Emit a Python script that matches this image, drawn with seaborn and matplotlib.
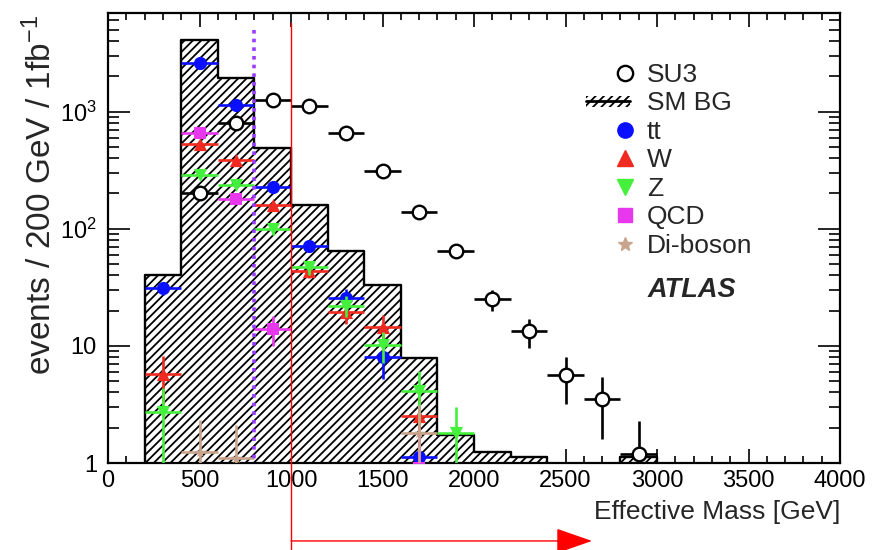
import matplotlib
matplotlib.use("Agg")
import matplotlib.pyplot as plt
import matplotlib.ticker as mticker
import matplotlib.transforms as mtrans
from matplotlib.lines import Line2D
from matplotlib.patches import Rectangle
from matplotlib.legend_handler import HandlerBase
import numpy as np
import pandas as pd
import seaborn as sns

# ---------------- data ----------------
bin_edges = [200, 400, 600, 800, 1000, 1200, 1400, 1600, 1800, 2000, 2200, 2400, 2600, 2800, 3000]
sm_bg = [40, 4100, 1950, 490, 160, 65, 33, 7.8, 1.74, 1.23, 1.13, 0, 0, 1.13]

su3_x = [500, 700, 900, 1100, 1300, 1500, 1700, 1900, 2100, 2300, 2500, 2700, 2900]
su3_y = [200, 800, 1260, 1120, 660, 310, 140, 64, 25, 13.3, 5.6, 3.5, 1.2]
su3_err = [14, 28, 35, 33, 26, 18, 12, 8, 5, 3.7, 2.4, 1.9, 1.1]

tt_x = [300, 500, 700, 900, 1100, 1300, 1500, 1700]
tt_y = [31, 2610, 1130, 229, 71, 25.8, 8.0, 1.13]
tt_err = [4, 50, 34, 15, 8, 4.5, 2.8, 1.0]

w_x = [300, 500, 700, 900, 1100, 1300, 1500, 1700]
w_y = [5.7, 533, 388, 160, 43.7, 19.5, 14.5, 2.5]
w_err = [2.5, 23, 20, 12, 6, 4, 3.7, 1.5]

z_x = [300, 500, 700, 900, 1100, 1300, 1500, 1700, 1900]
z_y = [2.7, 288, 238, 98.6, 46.7, 22, 10.2, 4.1, 1.8]
z_err = [1.7, 17, 15, 10, 6.5, 4.5, 3, 2, 1.2]

qcd_x = [500, 700, 900, 1700]
qcd_y = [660, 179, 14, 0.9]
qcd_err = [25, 13, 4, 1.0]

db_x = [500, 700, 1700]
db_y = [1.25, 1.1, 1.8]
db_err = [1.1, 1.0, 1.3]

x_half_width = 100
cut_value = 1000
dotted_value = 800
arrow_end = 2645

legend_labels = ["SU3", "SM BG", "tt", "W", "Z", "QCD", "Di-boson"]
x_label = "Effective Mass [GeV]"
y_label = "events / 200 GeV / 1fb$^{-1}$"

# ---------------- style ----------------
sns.set_theme(style="ticks")
plt.rcParams["font.family"] = ["Liberation Sans", "DejaVu Sans"]
plt.rcParams["mathtext.fontset"] = "custom"
plt.rcParams["mathtext.rm"] = "Liberation Sans"
plt.rcParams["mathtext.it"] = "Liberation Sans:italic"
plt.rcParams["mathtext.bf"] = "Liberation Sans:bold"
plt.rcParams["hatch.linewidth"] = 1.3
plt.rcParams["hatch.color"] = "black"

C_BLUE = "#0a10ff"
C_RED = "#f02a20"
C_GREEN = "#44f03c"
C_MAG = "#e838ee"
C_TAN = "#c9a48c"
C_VIOLET = "#9a3cff"

fig = plt.figure(figsize=(8.72, 5.5), dpi=100)
ax = fig.add_axes([108 / 872, 87 / 550, 732 / 872, 450.5 / 550])
ax.set_yscale("log")

# SM background: hatched step histogram
centers = [(a + b) / 2 for a, b in zip(bin_edges[:-1], bin_edges[1:])]
bg_df = pd.DataFrame({"m": centers, "w": sm_bg})
sns.histplot(data=bg_df, x="m", weights="w", bins=bin_edges, element="step",
             fill=True, ax=ax, color="white", alpha=1.0, edgecolor="black",
             linewidth=1.7, zorder=1)
for coll in ax.collections:
    coll.set_hatch("////")
    coll.set_facecolor("white")
    coll.set_edgecolor("black")

# points with error bars
series = [
    (su3_x, su3_y, su3_err, "o", "white", "black", 95, 1.7, "black"),
    (tt_x, tt_y, tt_err, "o", C_BLUE, C_BLUE, 90, 0, C_BLUE),
    (w_x, w_y, w_err, "^", C_RED, C_RED, 90, 0, C_RED),
    (z_x, z_y, z_err, "v", C_GREEN, C_GREEN, 90, 0, C_GREEN),
    (qcd_x, qcd_y, qcd_err, "s", C_MAG, C_MAG, 80, 0, C_MAG),
    (db_x, db_y, db_err, "*", C_TAN, C_TAN, 70, 0, C_TAN),
]
for i, (xs, ys, es, mk, fc, ec, sz, lw, lc) in enumerate(series):
    ax.errorbar(xs, ys, xerr=x_half_width, yerr=es, fmt="none", ecolor=lc,
                elinewidth=1.9, capsize=0, zorder=3 + 2 * i)
    sns.scatterplot(x=xs, y=ys, marker=mk, s=sz, color=fc, edgecolor=ec,
                    linewidth=lw, ax=ax, zorder=4 + 2 * i, legend=False)

# axes ranges / ticks
ax.set_xlim(0, 4000)
ax.set_ylim(1, 7000)
ax.xaxis.set_major_locator(mticker.MultipleLocator(500))
ax.xaxis.set_minor_locator(mticker.MultipleLocator(100))
ax.yaxis.set_major_locator(mticker.FixedLocator([1, 10, 100, 1000]))
ax.yaxis.set_minor_locator(mticker.LogLocator(base=10, subs=np.arange(2, 10)))
ax.yaxis.set_minor_formatter(mticker.NullFormatter())
ylab = {1: "1", 10: "10", 100: "$10^{2}$", 1000: "$10^{3}$"}
ax.yaxis.set_major_formatter(mticker.FuncFormatter(lambda v, p: ylab.get(int(round(v)), "")))
ax.tick_params(which="both", direction="in", top=True, right=True, colors="black",
               labelsize=17, width=1.2)
ax.tick_params(axis="x", which="major", length=10, pad=5)
ax.tick_params(axis="x", which="minor", length=5)
ax.tick_params(axis="y", which="major", length=16, pad=8)
ax.tick_params(axis="y", which="minor", length=8)
for sp in ax.spines.values():
    sp.set_linewidth(1.6)
    sp.set_color("black")
ax.grid(False)

ax.set_xlabel(x_label, fontsize=19, ha="right")
ax.xaxis.set_label_coords(1.0, -0.082)
ax.set_ylabel(y_label, fontsize=24, ha="right")
ax.yaxis.set_label_coords(-0.068, 0.995)

# vertical dotted line and the cut annotation
trans = mtrans.blended_transform_factory(ax.transData, ax.transAxes)
ax.plot([dotted_value, dotted_value], [0.962, 0.0], transform=trans, color=C_VIOLET,
        lw=2.6, ls=(0, (1, 1.4)), zorder=20)
ax.plot([cut_value, cut_value], [0.977, -0.2], transform=trans, color="red",
        lw=1.0, clip_on=False, zorder=25)
ax.annotate("", xy=(arrow_end, -0.173), xytext=(cut_value, -0.173),
            xycoords=trans, textcoords=trans, annotation_clip=False,
            arrowprops=dict(arrowstyle="-|>,head_length=1.15,head_width=0.4",
                            color="red", lw=1.0, shrinkA=0, shrinkB=0,
                            mutation_scale=20))

# legend
class HatchHandler(HandlerBase):
    def create_artists(self, legend, orig_handle, xdescent, ydescent, width,
                       height, fontsize, trans):
        x0 = -xdescent - 1.0 * width
        w = 1.7 * width
        yc = -ydescent + height / 2
        rect = Rectangle((x0, yc - 0.3 * height), w, 0.6 * height,
                         facecolor="white", edgecolor="black", hatch="////",
                         linewidth=0, transform=trans)
        line = Line2D([x0, x0 + w], [yc, yc], color="black", lw=2.0, transform=trans)
        return [rect, line]

handles = [
    Line2D([], [], ls="none", marker="o", ms=11, mfc="white", mec="black", mew=1.7),
    Rectangle((0, 0), 1, 1),
    Line2D([], [], ls="none", marker="o", ms=11, mfc=C_BLUE, mec=C_BLUE),
    Line2D([], [], ls="none", marker="^", ms=11, mfc=C_RED, mec=C_RED),
    Line2D([], [], ls="none", marker="v", ms=11, mfc=C_GREEN, mec=C_GREEN),
    Line2D([], [], ls="none", marker="s", ms=10, mfc=C_MAG, mec=C_MAG),
    Line2D([], [], ls="none", marker="*", ms=10, mfc=C_TAN, mec=C_TAN),
]
leg = ax.legend(handles, legend_labels, loc="upper left",
                bbox_to_anchor=((612 - 108) / 732, (463 - 63) / 450.5),
                frameon=False, fontsize=19, handlelength=1.0, handletextpad=0.33,
                labelspacing=0.17, borderpad=0, borderaxespad=0, numpoints=1,
                handler_map={Rectangle: HatchHandler()})

ax.text((648 - 108) / 732, (463 - 290) / 450.5, "ATLAS", transform=ax.transAxes,
        fontsize=19.5, fontweight="bold", fontstyle="italic", va="center", ha="left")

fig.savefig("out.png", dpi=100)
